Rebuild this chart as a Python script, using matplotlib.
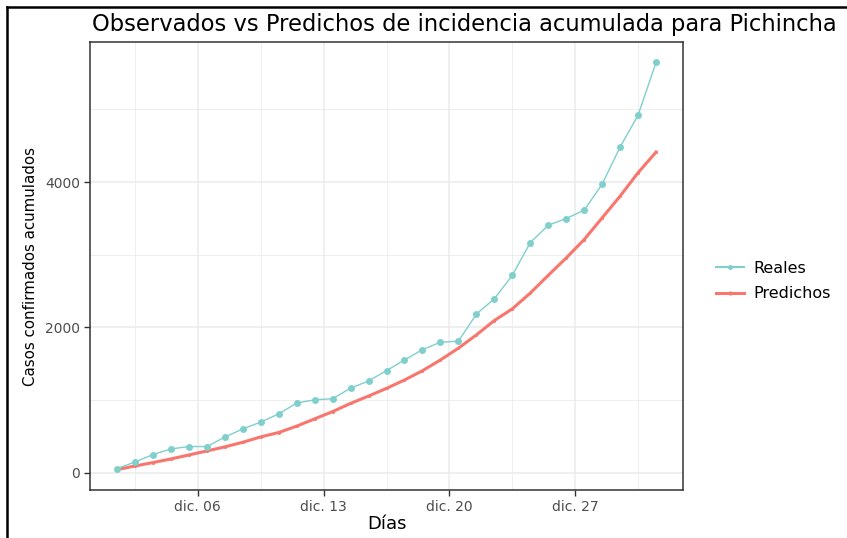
import numpy as np
import pandas as pd
import matplotlib
matplotlib.use("Agg")
import matplotlib.pyplot as plt
import matplotlib.dates as mdates
from matplotlib.lines import Line2D
from matplotlib.ticker import FixedLocator, FuncFormatter

plt.rcParams["font.family"] = ["DejaVu Sans"]

# Daily series for Pichincha, December
fechas = pd.date_range("2020-12-01", "2020-12-31", freq="D")
reales = [55, 146, 248, 326, 359, 359, 488, 602, 695, 809, 957, 1003, 1017,
          1164, 1261, 1405, 1551, 1693, 1796, 1809, 2182, 2394, 2716, 3167,
          3406, 3499, 3613, 3972, 4483, 4921, 5649]
predichos = [41, 91, 138, 188, 243, 298, 354, 418, 492, 552, 640, 740, 840,
             953, 1054, 1160, 1275, 1403, 1551, 1713, 1896, 2094, 2255, 2472,
             2716, 2956, 3209, 3508, 3807, 4130, 4414]
etiquetas = ["Reales", "Predichos"]
y_ticks = [0, 2000, 4000]

col_reales = "#7fcfcc"
col_pred = "#f8766d"

fig = plt.figure(figsize=(8.47, 5.38), dpi=100)
ax = fig.add_axes([90 / 847, 1 - 490 / 538, 593 / 847, 448 / 538])

x = mdates.date2num(fechas + pd.Timedelta(hours=12))

ax.plot(x, predichos, color=col_pred, lw=2.2, marker="o", ms=1.2, zorder=3)
ax.plot(x, reales, color=col_reales, lw=1.0, marker="o", ms=5.0,
        markeredgewidth=0, zorder=4)

# ggplot-style 5% expansion of the data range
xmin, xmax = x.min(), x.max()
dx = (xmax - xmin) * 0.05
ax.set_xlim(xmin - dx, xmax + dx)
allv = np.concatenate([reales, predichos])
dy = (allv.max() - allv.min()) * 0.05
ax.set_ylim(allv.min() - dy, allv.max() + dy)

major_dates = pd.to_datetime(["2020-12-06", "2020-12-13", "2020-12-20", "2020-12-27"])
major_x = mdates.date2num(major_dates)
minor_x = list(major_x[:-1] + 3.5) + [major_x[0] - 3.5, major_x[-1] + 3.5]
ax.xaxis.set_major_locator(FixedLocator(major_x))
ax.xaxis.set_minor_locator(FixedLocator(minor_x))
ax.xaxis.set_major_formatter(FuncFormatter(
    lambda v, p: "dic. " + mdates.num2date(v).strftime("%d")))
ax.yaxis.set_major_locator(FixedLocator(y_ticks))
ax.yaxis.set_minor_locator(FixedLocator([1000, 3000, 5000]))

ax.grid(which="major", color="#ebebeb", lw=1.1)
ax.grid(which="minor", color="#ebebeb", lw=0.6)
ax.set_axisbelow(True)
for s in ax.spines.values():
    s.set_color("#333333")
    s.set_linewidth(1.1)
ax.tick_params(which="major", length=4, width=1, color="#333333",
               labelsize=10, labelcolor="#4d4d4d", pad=3)
ax.tick_params(which="minor", length=0)

ax.set_xlabel("Días", fontsize=13, color="black", labelpad=1)
ax.set_ylabel("Casos confirmados acumulados", fontsize=10.8, color="black",
              labelpad=5)

fig.text(92 / 847, 1 - 24 / 538, "Observados vs Predichos de incidencia acumulada para Pichincha",
         fontsize=16.3, va="center", ha="left", color="black")

handles = [Line2D([], [], color=col_reales, lw=1.5, marker="o", ms=2.5),
           Line2D([], [], color=col_pred, lw=2.2, marker="o", ms=2.0)]
fig.legend(handles, etiquetas, loc="center left",
           bbox_to_anchor=(702 / 847, 1 - 281 / 538), frameon=False,
           fontsize=11.5, handlelength=1.7, handletextpad=0.6, labelspacing=0.65)

# outer frame
fig.add_artist(Line2D([7 / 847, 7 / 847], [0, 1 - 7 / 538], color="black",
                      lw=1.8, transform=fig.transFigure))
fig.add_artist(Line2D([7 / 847, 1], [1 - 7 / 538, 1 - 7 / 538], color="black",
                      lw=1.8, transform=fig.transFigure))

fig.savefig("out.png", dpi=100)
